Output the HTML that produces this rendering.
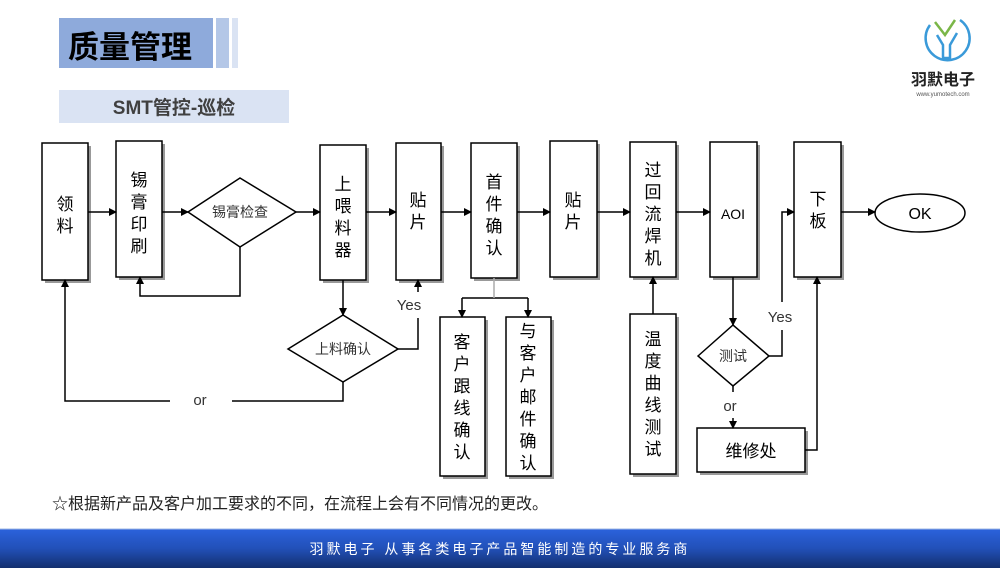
<!DOCTYPE html>
<html><head><meta charset="utf-8"><style>
body{margin:0;width:1000px;height:568px;overflow:hidden;background:#fff;font-family:"Liberation Sans","Noto Sans CJK SC",sans-serif;}
</style></head><body>
<svg width="1000" height="568" xmlns="http://www.w3.org/2000/svg" style="position:absolute;left:0;top:0" font-family="Liberation Sans, Noto Sans CJK SC, sans-serif">
<defs>
<marker id="a" markerWidth="8" markerHeight="8" refX="7" refY="4" orient="auto" markerUnits="userSpaceOnUse"><path d="M0,0 L8,4 L0,8 z" fill="#000"/></marker>
<linearGradient id="g" x1="0" y1="0" x2="0" y2="1"><stop offset="0" stop-color="#2b62dc"/><stop offset="0.5" stop-color="#2250b8"/><stop offset="1" stop-color="#132f6e"/></linearGradient>
</defs>
<rect x="59" y="18" width="154" height="50" fill="#8eaadb"/>
<rect x="216" y="18" width="13" height="50" fill="#b4c7e7"/>
<rect x="232" y="18" width="6" height="50" fill="#dae3f3"/>
<text x="68" y="58" font-size="31" font-weight="bold" fill="#000">质量管理</text>
<rect x="59" y="90" width="230" height="33" fill="#dae3f3"/>
<text x="174" y="114" font-size="19" font-weight="bold" fill="#404040" text-anchor="middle">SMT管控-巡检</text>
<g fill="none" stroke-width="2.5">
<path d="M930,25 A22,22 0 1 0 960,20" stroke="#3a9ad9"/>
<path d="M935,22 L945,35 L955,20" stroke="#7ab648"/>
<path d="M937,35 L943,45 L943,58 L950,58 L950,45 L957,33" stroke="#3a9ad9"/>
</g>
<text x="943" y="85" font-size="16" font-weight="bold" fill="#222" text-anchor="middle">羽默电子</text>
<text x="943" y="96" font-size="6" fill="#555" text-anchor="middle">www.yumotech.com</text>
<g stroke="#000" stroke-width="1.5" fill="#fff">
<g fill="#999" stroke="none">
<rect x="45" y="146" width="46" height="137"/><rect x="119" y="144" width="46" height="136"/>
<rect x="323" y="148" width="46" height="135"/><rect x="399" y="146" width="45" height="137"/>
<rect x="474" y="146" width="46" height="135"/><rect x="553" y="144" width="47" height="136"/>
<rect x="633" y="145" width="46" height="135"/><rect x="713" y="145" width="47" height="135"/>
<rect x="797" y="145" width="47" height="135"/><rect x="443" y="320" width="45" height="159"/>
<rect x="509" y="320" width="45" height="159"/><rect x="633" y="317" width="46" height="160"/>
<rect x="700" y="431" width="108" height="44"/>
</g>
<rect x="42" y="143" width="46" height="137"/><rect x="116" y="141" width="46" height="136"/>
<rect x="320" y="145" width="46" height="135"/><rect x="396" y="143" width="45" height="137"/>
<rect x="471" y="143" width="46" height="135"/><rect x="550" y="141" width="47" height="136"/>
<rect x="630" y="142" width="46" height="135"/><rect x="710" y="142" width="47" height="135"/>
<rect x="794" y="142" width="47" height="135"/><rect x="440" y="317" width="45" height="159"/>
<rect x="506" y="317" width="45" height="159"/><rect x="630" y="314" width="46" height="160"/>
<rect x="697" y="428" width="108" height="44"/>
<polygon points="188,212 240,178 296,212 240,247"/>
<polygon points="288,349 343,315 398,349 343,382"/>
<polygon points="698,356 733,325 769,356 733,386"/>
<ellipse cx="920" cy="213" rx="45" ry="19"/>
</g>
<g stroke="#000" stroke-width="1.5" fill="none" marker-end="url(#a)">
<line x1="88" y1="212" x2="116" y2="212"/>
<line x1="162" y1="212" x2="188" y2="212"/>
<line x1="296" y1="212" x2="320" y2="212"/>
<line x1="366" y1="212" x2="396" y2="212"/>
<line x1="441" y1="212" x2="471" y2="212"/>
<line x1="517" y1="212" x2="550" y2="212"/>
<line x1="597" y1="212" x2="630" y2="212"/>
<line x1="676" y1="212" x2="710" y2="212"/>
<line x1="841" y1="212" x2="875" y2="212"/>
<polyline points="240,247 240,296 140,296 140,277"/>
<line x1="343" y1="280" x2="343" y2="315"/>
<line x1="418" y1="292" x2="418" y2="280"/>
<polyline points="170,401 65,401 65,280"/>
<polyline points="462,298 462,317"/>
<polyline points="528,298 528,317"/>
<line x1="653" y1="314" x2="653" y2="277"/>
<line x1="733" y1="277" x2="733" y2="325"/>
<polyline points="782,302 782,212 794,212"/>
<line x1="733" y1="418" x2="733" y2="428"/>
<polyline points="805,450 817,450 817,277"/>
</g>
<g stroke="#000" stroke-width="1.5" fill="none">
<polyline points="398,349 418,349 418,318"/>
<polyline points="343,382 343,401 232,401"/>
<polyline points="769,356 782,356 782,330"/>
<line x1="462" y1="298" x2="528" y2="298"/>
<line x1="733" y1="386" x2="733" y2="392"/>
</g>
<line x1="494" y1="278" x2="494" y2="298" stroke="#aaa" stroke-width="1.5"/>
<g font-size="17" fill="#000" text-anchor="middle">
<text x="65" y="210">领</text><text x="65" y="232">料</text>
<text x="139" y="186">锡</text><text x="139" y="208">膏</text><text x="139" y="230">印</text><text x="139" y="252">刷</text>
<text x="343" y="190">上</text><text x="343" y="212">喂</text><text x="343" y="234">料</text><text x="343" y="256">器</text>
<text x="418" y="206">贴</text><text x="418" y="228">片</text>
<text x="494" y="188">首</text><text x="494" y="210">件</text><text x="494" y="232">确</text><text x="494" y="254">认</text>
<text x="573" y="206">贴</text><text x="573" y="228">片</text>
<text x="653" y="176">过</text><text x="653" y="198">回</text><text x="653" y="220">流</text><text x="653" y="242">焊</text><text x="653" y="264">机</text>
<text x="818" y="205">下</text><text x="818" y="227">板</text>
<text x="462" y="348">客</text><text x="462" y="370">户</text><text x="462" y="392">跟</text><text x="462" y="414">线</text><text x="462" y="436">确</text><text x="462" y="458">认</text>
<text x="528" y="337">与</text><text x="528" y="359">客</text><text x="528" y="381">户</text><text x="528" y="403">邮</text><text x="528" y="425">件</text><text x="528" y="447">确</text><text x="528" y="469">认</text>
<text x="653" y="345">温</text><text x="653" y="367">度</text><text x="653" y="389">曲</text><text x="653" y="411">线</text><text x="653" y="433">测</text><text x="653" y="455">试</text>
<text x="751" y="457">维修处</text>
</g>
<g font-size="14" fill="#333" text-anchor="middle">
<text x="240" y="217">锡膏检查</text>
<text x="343" y="354">上料确认</text>
<text x="733" y="361">测试</text>
<text x="733" y="219" font-size="14" fill="#000">AOI</text>
<text x="920" y="219" font-size="16" fill="#000">OK</text>
<text x="409" y="310" font-size="15">Yes</text>
<text x="780" y="322" font-size="15">Yes</text>
<text x="200" y="405" font-size="15">or</text>
<text x="730" y="411" font-size="15">or</text>
</g>
<text x="52" y="509" font-size="16" fill="#222">☆根据新产品及客户加工要求的不同，在流程上会有不同情况的更改。</text>
<rect x="0" y="529" width="1000" height="39" fill="url(#g)"/>
<line x1="0" y1="529" x2="1000" y2="529" stroke="#9fb8e6" stroke-width="1"/>
<text x="500" y="554" font-size="14" fill="#fff" text-anchor="middle" letter-spacing="3">羽默电子  从事各类电子产品智能制造的专业服务商</text>
</svg>
</body></html>
